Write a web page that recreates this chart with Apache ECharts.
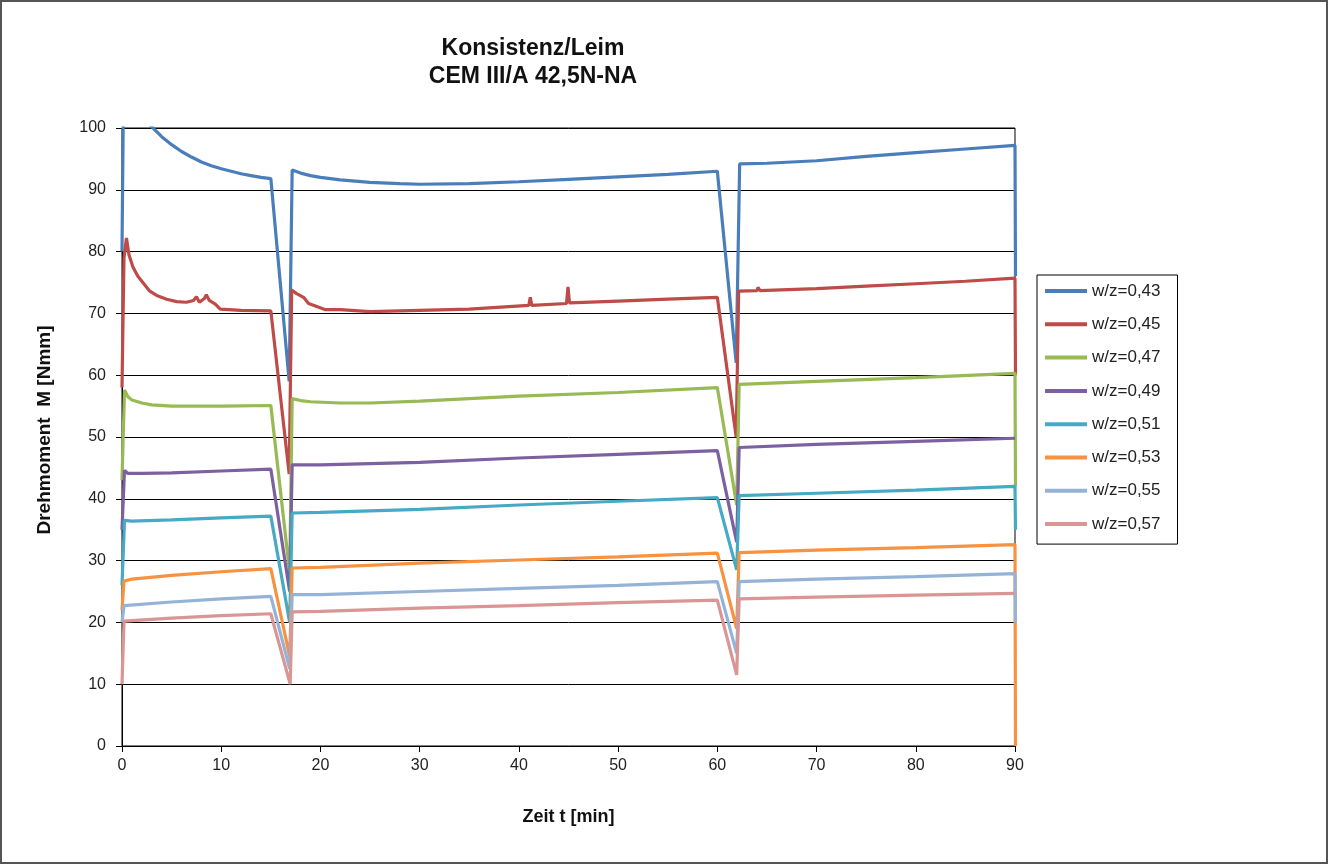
<!DOCTYPE html>
<html>
<head>
<meta charset="utf-8">
<script src="https://cdn.jsdelivr.net/npm/echarts@6/dist/echarts.min.js"></script>
<style>
  html, body { margin: 0; padding: 0; background: #fff; }
  #chart { width: 1329px; height: 865px; }
</style>
</head>
<body>
<div id="chart"></div>
<script>
// Drehmoment over time: [t in min, M in Nmm]
var names = ['w/z=0,43', 'w/z=0,45', 'w/z=0,47', 'w/z=0,49', 'w/z=0,51', 'w/z=0,53', 'w/z=0,55', 'w/z=0,57'];
var colors = ['#4A7EBB', '#BE4B48', '#98B954', '#7D60A0', '#46AAC5', '#F69240', '#95B3D7', '#D99694'];
var xTicks = [0, 10, 20, 30, 40, 50, 60, 70, 80, 90];
var yTicks = [0, 10, 20, 30, 40, 50, 60, 70, 80, 90, 100];

var wz043 = [[0,80],[0.15,106],[1,104],[2,101.8],[3,100.2],[4,98.6],[5,97.3],[6,96.2],[7,95.3],[8,94.5],[9,93.9],[10,93.4],[11,93],[12,92.6],[13,92.3],[14,92],[15,91.8],[15.2,91.7],[16.85,59],[17.15,93.2],[18,92.7],[19,92.3],[20,92],[22,91.6],[25,91.2],[28,91],[30,90.9],[35,91],[40,91.3],[45,91.7],[50,92.1],[55,92.5],[60,93],[60.2,92.8],[61.9,62],[62.25,94.2],[65,94.3],[70,94.7],[75,95.4],[80,96],[85,96.6],[90,97.2],[90.05,76]];
var wz045 = [[0,58],[0.2,79],[0.45,82.2],[0.7,79.5],[1.1,77.5],[1.6,76],[2.2,74.8],[2.8,73.6],[3.5,72.9],[4.5,72.3],[5.5,71.9],[6.5,71.8],[7.2,72.1],[7.5,72.7],[7.8,71.8],[8.3,72.4],[8.5,73],[8.8,72.1],[9.4,71.5],[9.9,70.7],[12,70.5],[15,70.4],[15.2,70.3],[16.85,44],[17.1,73.8],[17.6,73.2],[18.3,72.6],[18.8,71.6],[19.5,71.2],[20.5,70.6],[22,70.6],[25,70.3],[30,70.5],[35,70.7],[41,71.3],[41.15,72.6],[41.3,71.3],[44.8,71.6],[44.95,74.3],[45.1,71.7],[50,72],[55,72.3],[60,72.6],[60.2,72.4],[61.9,50],[62.15,73.6],[64,73.7],[64.1,74.2],[64.3,73.7],[70,74],[75,74.4],[80,74.8],[85,75.2],[90,75.7],[90.05,60]];
var wz047 = [[0,43],[0.25,57.6],[0.6,56.5],[1,56],[2,55.5],[3,55.2],[5,55],[10,55],[15,55.1],[15.2,55],[16.9,28],[17.15,56.2],[18,55.9],[19,55.7],[22,55.5],[25,55.5],[30,55.8],[40,56.6],[50,57.2],[60,58],[60.2,57.8],[61.95,39],[62.2,58.5],[70,59],[80,59.6],[90,60.3],[90.05,42]];
var wz049 = [[0,35],[0.25,44.6],[0.6,44.1],[2,44.1],[5,44.2],[10,44.5],[15,44.8],[15.2,44.7],[16.9,25],[17.15,45.5],[20,45.5],[30,45.9],[40,46.6],[50,47.2],[60,47.8],[60.2,47.6],[61.95,33],[62.2,48.3],[70,48.8],[80,49.3],[90,49.8]];
var wz051 = [[0,26],[0.25,36.5],[1,36.4],[5,36.6],[10,36.9],[15,37.2],[15.2,37.1],[16.9,20],[17.15,37.7],[20,37.8],[30,38.3],[40,39],[50,39.6],[60,40.2],[60.2,40],[61.95,28.5],[62.2,40.5],[70,40.9],[80,41.4],[90,42],[90.05,35]];
var wz053 = [[0,22],[0.2,26.7],[1,27],[5,27.6],[10,28.2],[15,28.7],[15.2,28.6],[16.9,14.5],[17.15,28.8],[20,28.9],[30,29.6],[40,30.1],[50,30.6],[60,31.2],[60.2,31],[61.95,19],[62.2,31.3],[70,31.7],[80,32.1],[90,32.6],[90.05,0]];
var wz055 = [[0,20],[0.2,22.7],[5,23.3],[10,23.8],[15,24.2],[15.2,24.1],[16.9,12.5],[17.15,24.5],[20,24.5],[30,25],[40,25.5],[50,26],[60,26.6],[60.2,26.4],[61.95,15],[62.2,26.6],[70,27],[80,27.4],[90,27.9],[90.05,20]];
var wz057 = [[0,10],[0.2,20.2],[5,20.7],[10,21.1],[15,21.4],[15.2,21.3],[16.95,10],[17.15,21.7],[20,21.8],[30,22.3],[40,22.7],[50,23.2],[60,23.6],[60.2,23.4],[61.95,11.5],[62.2,23.8],[70,24.1],[80,24.4],[90,24.7]];

var allData = [wz043, wz045, wz047, wz049, wz051, wz053, wz055, wz057];

var chart = echarts.init(document.getElementById('chart'));

var series = allData.map(function (d, i) {
  return {
    name: names[i],
    type: 'line',
    data: d,
    symbol: 'none',
    clip: true,
    lineStyle: { width: 3.2, color: colors[i] },
    itemStyle: { color: colors[i] }
  };
});

var option = {
  backgroundColor: '#fff',
  animation: false,
  color: colors,
  title: {
    text: 'Konsistenz/Leim\nCEM III/A 42,5N-NA',
    left: 528,
    top: 30,
    textAlign: 'center',
    textStyle: {
      fontFamily: 'Liberation Sans, Arial, sans-serif',
      fontSize: 23,
      fontWeight: 'bold',
      lineHeight: 28,
      color: '#111'
    }
  },
  legend: {
    orient: 'vertical',
    left: 1037,
    top: 275,
    data: names,
    icon: 'rect',
    itemWidth: 42,
    itemHeight: 4,
    itemGap: 15.3,
    padding: [7, 17, 11, 8],
    borderColor: '#000',
    borderWidth: 1,
    textStyle: {
      fontFamily: 'Liberation Sans, Arial, sans-serif',
      fontSize: 17,
      lineHeight: 18,
      color: '#222'
    }
  },
  grid: {
    left: 122,
    right: 314,
    top: 128,
    bottom: 119,
    show: true,
    borderColor: '#000',
    borderWidth: 1,
    backgroundColor: 'transparent'
  },
  xAxis: {
    type: 'value',
    min: xTicks[0],
    max: xTicks[xTicks.length - 1],
    interval: 10,
    name: 'Zeit t [min]',
    nameLocation: 'middle',
    nameGap: 62,
    nameTextStyle: {
      fontFamily: 'Liberation Sans, Arial, sans-serif',
      fontSize: 18,
      fontWeight: 'bold',
      color: '#111'
    },
    axisLine: { show: true, lineStyle: { color: '#000', width: 1 } },
    axisTick: { show: true, length: 6, lineStyle: { color: '#000' } },
    axisLabel: {
      margin: 12,
      fontFamily: 'Liberation Sans, Arial, sans-serif',
      fontSize: 16,
      color: '#222'
    },
    splitLine: { show: false }
  },
  yAxis: {
    type: 'value',
    min: yTicks[0],
    max: yTicks[yTicks.length - 1],
    interval: 10,
    name: 'Drehmoment  M [Nmm]',
    nameLocation: 'middle',
    nameGap: 68,
    nameTextStyle: {
      fontFamily: 'Liberation Sans, Arial, sans-serif',
      fontSize: 19,
      fontWeight: 'bold',
      color: '#111',
      padding: [0, 0, 0, 14]
    },
    axisLine: { show: true, lineStyle: { color: '#000', width: 1 } },
    axisTick: { show: true, length: 6, lineStyle: { color: '#000' } },
    axisLabel: {
      margin: 16,
      fontFamily: 'Liberation Sans, Arial, sans-serif',
      fontSize: 16,
      color: '#222'
    },
    splitLine: { show: true, lineStyle: { color: '#000', width: 1 } }
  },
  graphic: [{
    type: 'rect',
    shape: { x: 1, y: 1, width: 1326, height: 862 },
    style: { fill: 'none', stroke: '#555', lineWidth: 2 },
    silent: true
  }],
  series: series
};

chart.setOption(option);
</script>
</body>
</html>
